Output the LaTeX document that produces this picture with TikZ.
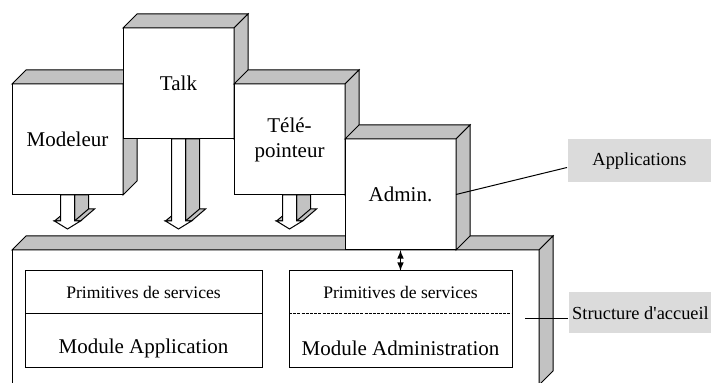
\documentclass[tikz,border=0pt]{standalone}
\usepackage{fontspec}
\setmainfont{Liberation Serif}
\usepackage{tikz}
\usetikzlibrary{calc}
\definecolor{shade}{gray}{0.76}
\definecolor{tagfill}{gray}{0.86}

\newcommand\boxdepth[2]{% node, depth
  \filldraw[fill=shade] (#1.north west) -- ($(#1.north west)+(#2,-#2)$) -- ($(#1.north east)+(#2,-#2)$) -- (#1.north east) -- cycle;
  \filldraw[fill=shade] (#1.north east) -- ($(#1.north east)+(#2,-#2)$) -- ($(#1.south east)+(#2,-#2)$) -- (#1.south east) -- cycle;
}

\newcommand\blockarrow[2]{% from, to
  \filldraw[fill=shade] let \p1=(#1.south), \p2=(#2.north) in
    ($(\x1,\y1)+(7,0)$) -- ($(\x1,\y2)+(7,-29)$) -- ($(\x1,\y2)+(13,-29)$) -- ($(\x1,\y2)+(27,-41)$) -- ($(\x1,\y2)+(21,-41)$) -- ($(\x1,\y1)+(21,0)$) -- cycle
    ($(\x1,\y2)+(7,-29)$) -- ($(\x1,\y2)+(21,-41)$);
  \filldraw[fill=shade] let \p1=(#1.south), \p2=(#2.north) in
    ($(\x1,\y2)+(-13,-29)$) -- ($(\x1,\y2)+(-7,-34)$) -- ($(\x1,\y2)+(-7,-29)$) -- cycle;
  \filldraw[fill=white] let \p1=(#1.south), \p2=(#2.north) in
    ($(\x1,\y1)+(-7,0)$) -- ($(\x1,\y2)+(-7,-29)$) -- ($(\x1,\y2)+(-13,-29)$) -- ($(\x1,\y2)+(0,-21)$) -- ($(\x1,\y2)+(13,-29)$) -- ($(\x1,\y2)+(7,-29)$) -- ($(\x1,\y1)+(7,0)$) -- cycle;
}

\begin{document}
\begin{tikzpicture}[x=0.5pt,y=-0.5pt,line width=0.5pt]
		\tikzstyle{appbox}=[draw,fill=white,minimum width=55.5pt,minimum height=55.5pt,
								  inner sep=0pt,outer sep=0pt,align=center,
								  font=\fontsize{10.5}{12.5}\selectfont]
		\tikzstyle{modbox}=[draw,fill=white,minimum height=48.5pt,inner sep=0pt,outer sep=0pt]
		\tikzstyle{primtext}=[anchor=north,minimum height=21pt,inner sep=0pt,
								  font=\fontsize{8.8}{11}\selectfont]
		\tikzstyle{modtext}=[anchor=north,minimum height=27.5pt,inner sep=0pt,yshift=-3pt,
								  font=\fontsize{10.5}{12}\selectfont]
		\tikzstyle{tagbox}=[fill=tagfill,anchor=north west,minimum width=72pt,
								  inner sep=1pt,font=\fontsize{9.2}{11}\selectfont]

\clip (0,0) rectangle (711,383);

% application boxes
\node[appbox,anchor=north west] at (12,84) (modeleur) {Modeleur};
\boxdepth{modeleur}{14}
\node[appbox,anchor=north west,yshift=28pt] at (modeleur.north east) (talk) {Talk};
\boxdepth{talk}{14}
\node[appbox,anchor=north west,yshift=-28pt] at (talk.north east) (tele_pointeur) {Télé-\\pointeur};
\boxdepth{tele_pointeur}{14}

% support structure
\node[draw,fill=white,anchor=north west,minimum width=263.5pt,minimum height=67.5pt,
      inner sep=0pt,outer sep=0pt] at (12,250) (structure) {};
\boxdepth{structure}{14}

\blockarrow{modeleur}{structure}
\blockarrow{talk}{structure}
\blockarrow{tele_pointeur}{structure}

\node[appbox,anchor=north west,yshift=-27.5pt] at (tele_pointeur.north east) (admin) {Admin.};
\boxdepth{admin}{14}

% modules
\node[modbox,anchor=north west,minimum width=118.5pt] at (25,271) (app_module) {};
\node[primtext] at (app_module.north) (prim_app) {Primitives de services};
\node[modtext] at (prim_app.south) (mod_app) {Module Application};
\draw (prim_app.south -| app_module.west) -- (prim_app.south -| app_module.east);

\node[modbox,anchor=north west,minimum width=111.5pt] at (289,271) (admin_module) {};
\node[primtext] at (admin_module.north) (prim_admin) {Primitives de services};
\node[modtext] at (prim_admin.south) (mod_admin) {Module Administration};
\draw[dash pattern=on 1.5pt off 0.6pt] (prim_admin.south -| admin_module.west) -- (prim_admin.south -| admin_module.east);

\draw[<->,>=latex] (admin.south) -- (admin_module.north);

% tags
\node[tagbox,minimum height=21.5pt] at (567,139) (applications) {Applications};
\node[tagbox,minimum height=20.5pt] at (568,292) (accueil) {Structure d\textquotesingle accueil};

\draw (admin.east) -- ([yshift=-3.25pt]applications.west);
\coordinate (accueil_pt) at (525,319);
\draw (accueil_pt) -- (accueil_pt -| accueil.west);

\end{tikzpicture}
\end{document}
